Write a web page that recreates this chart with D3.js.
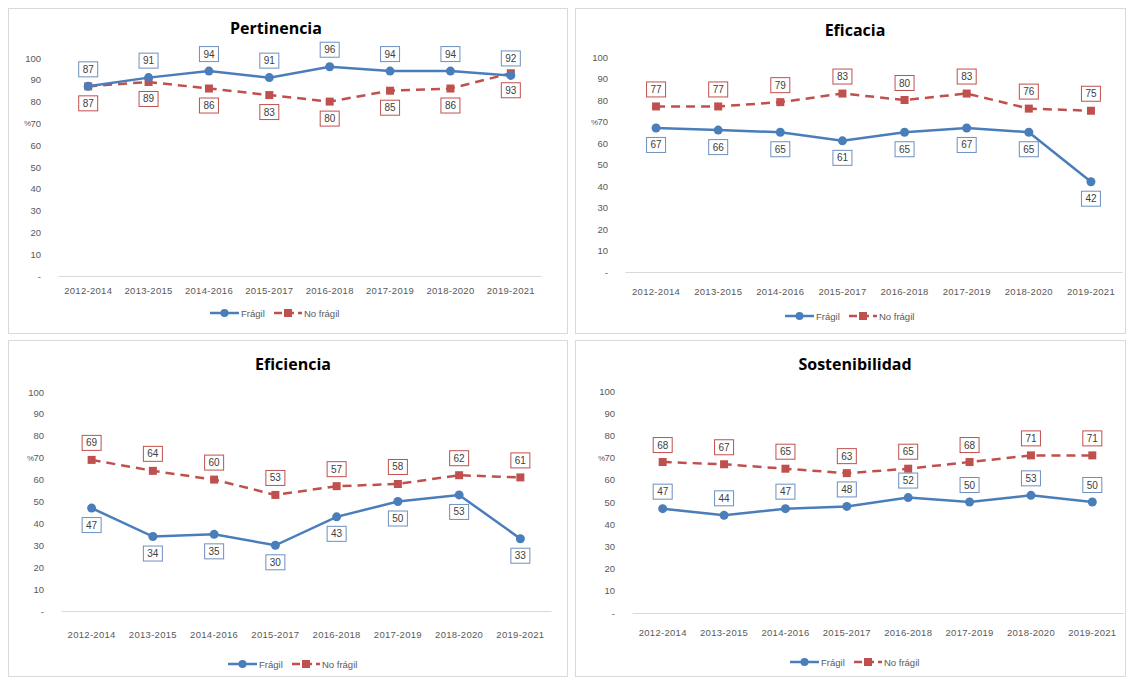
<!DOCTYPE html>
<html>
<head>
<meta charset="utf-8">
<script src="https://cdn.jsdelivr.net/npm/d3@7"></script>
<style>
  html, body { margin: 0; padding: 0; background: #ffffff; }
  svg { display: block; }
</style>
</head>
<body>
<svg id="chart" width="1130" height="677"></svg>
<script>
// ---------- DATA ----------
const categories = ["2012-2014","2013-2015","2014-2016","2015-2017","2016-2018","2017-2019","2018-2020","2019-2021"];
const titles = ["Pertinencia","Eficacia","Eficiencia","Sostenibilidad"];
const seriesNames = ["Frágil","No frágil"];
const yTickValues = [0,10,20,30,40,50,60,70,80,90,100];

const fragilPertinencia     = [87, 91, 94, 91, 96, 94, 94, 92];
const noFragilPertinencia   = [87, 89, 86, 83, 80, 85, 86, 93];
const fragilEficacia        = [67, 66, 65, 61, 65, 67, 65, 42];
const noFragilEficacia      = [77, 77, 79, 83, 80, 83, 76, 75];
const fragilEficiencia      = [47, 34, 35, 30, 43, 50, 53, 33];
const noFragilEficiencia    = [69, 64, 60, 53, 57, 58, 62, 61];
const fragilSostenibilidad  = [47, 44, 47, 48, 52, 50, 53, 50];
const noFragilSostenibilidad= [68, 67, 65, 63, 65, 68, 71, 71];

// ---------- LAYOUT (positions / styles only) ----------
const panels = [
  { title: titles[0], fr: fragilPertinencia, nf: noFragilPertinencia,
    box: [8, 8, 559, 325], x0: 58, x1: 541, yTop: 58, yBot: 276, titleX: 276, titleY: 34,
    catY: 294, legY: 313, legX: 270, frPos: -1, nfPos: 1 },
  { title: titles[1], fr: fragilEficacia, nf: noFragilEficacia,
    box: [575, 8, 550, 325], x0: 625, x1: 1122, yTop: 57, yBot: 272, titleX: 855, titleY: 36,
    catY: 295, legX: 845, legY: 316, frPos: 1, nfPos: -1 },
  { title: titles[2], fr: fragilEficiencia, nf: noFragilEficiencia,
    box: [8, 340, 559, 336], x0: 61, x1: 551, yTop: 392, yBot: 611, titleX: 293, titleY: 370,
    catY: 638, legX: 288, legY: 664, frPos: 1, nfPos: -1 },
  { title: titles[3], fr: fragilSostenibilidad, nf: noFragilSostenibilidad,
    box: [575, 340, 550, 336], x0: 632, x1: 1123, yTop: 391, yBot: 613, titleX: 855, titleY: 370,
    catY: 636, legX: 850, legY: 662, frPos: -1, nfPos: -1 }
];

const BLUE = "#4a7ebb";
const RED = "#c0504d";
const TXT = "#595959";
const FONT = "'Liberation Sans', Arial, sans-serif";

const svg = d3.select("#chart");

panels.forEach(p => {
  const g = svg.append("g");
  // panel border
  g.append("rect")
    .attr("x", p.box[0] + 0.5).attr("y", p.box[1] + 0.5)
    .attr("width", p.box[2]).attr("height", p.box[3])
    .attr("fill", "#fff").attr("stroke", "#d9d9d9").attr("stroke-width", 1);

  const x = d3.scaleBand().domain(categories).range([p.x0, p.x1]);
  const cx = c => x(c) + x.bandwidth() / 2;
  const y = d3.scaleLinear().domain([0, 100]).range([p.yBot, p.yTop]);

  // title
  g.append("text")
    .attr("x", p.titleX).attr("y", p.titleY)
    .attr("text-anchor", "middle")
    .attr("font-family", "'Open Sans', 'Noto Sans', sans-serif")
    .attr("font-weight", 700).attr("font-size", 16)
    .attr("fill", "#000")
    .text(p.title);

  // y axis (labels only)
  const yAxis = d3.axisLeft(y).tickValues(yTickValues).tickSize(0).tickPadding(0)
    .tickFormat(d => d === 0 ? "-" : d);
  const ya = g.append("g").attr("transform", `translate(${p.x0 - 17},0)`).call(yAxis);
  ya.select(".domain").remove();
  ya.selectAll("text")
    .attr("font-family", FONT)
    .attr("font-size", 9.5).attr("fill", TXT);
  // "%" axis title overlapping the 70 tick
  g.append("text")
    .attr("x", p.x0 - 27).attr("y", y(70) + 3)
    .attr("text-anchor", "end")
    .attr("font-family", FONT)
    .attr("font-size", 8).attr("fill", TXT)
    .text("%");

  // x axis
  const xAxis = d3.axisBottom(x).tickSize(0).tickPadding(0);
  const xa = g.append("g").attr("transform", `translate(0,${p.yBot})`).call(xAxis);
  xa.select(".domain").attr("stroke", "#d9d9d9").attr("stroke-width", 1);
  xa.selectAll("text")
    .attr("dy", 0).attr("y", p.catY - p.yBot)
    .attr("font-family", FONT)
    .attr("letter-spacing", 0.3)
    .attr("font-size", 9.5).attr("fill", TXT);

  const line = d3.line().x((d, i) => cx(categories[i])).y(d => y(d));

  // No frágil (dashed)
  g.append("path").datum(p.nf)
    .attr("d", line).attr("fill", "none")
    .attr("stroke", RED).attr("stroke-width", 2.5)
    .attr("stroke-dasharray", "9,6");
  // Frágil (solid)
  g.append("path").datum(p.fr)
    .attr("d", line).attr("fill", "none")
    .attr("stroke", BLUE).attr("stroke-width", 2.5);

  // markers
  g.selectAll(".mnf").data(p.nf).enter().append("rect")
    .attr("x", (d, i) => cx(categories[i]) - 4)
    .attr("y", d => y(d) - 4)
    .attr("width", 8).attr("height", 8)
    .attr("fill", RED);
  g.selectAll(".mfr").data(p.fr).enter().append("circle")
    .attr("cx", (d, i) => cx(categories[i]))
    .attr("cy", d => y(d))
    .attr("r", 4.5)
    .attr("fill", BLUE);

  // data labels
  function labels(data, pos, stroke) {
    const lg = g.selectAll(null).data(data).enter().append("g")
      .attr("transform", (d, i) => `translate(${cx(categories[i])},${y(d) + pos * 17})`);
    lg.append("rect")
      .attr("x", -9.5).attr("y", -7.5).attr("width", 19).attr("height", 15)
      .attr("fill", "#fff").attr("stroke", stroke).attr("stroke-width", 1);
    lg.append("text")
      .attr("text-anchor", "middle").attr("dy", "0.35em")
      .attr("font-family", FONT)
      .attr("font-size", 10).attr("fill", "#404040")
      .text(d => d);
  }
  labels(p.nf, p.nfPos, RED);
  labels(p.fr, p.frPos, "#6d8fbf");

  // legend
  const lgX = p.legX - 60;
  const leg = g.append("g").attr("transform", `translate(${lgX},${p.legY})`);
  leg.append("line").attr("x1", 0).attr("x2", 29).attr("y1", 0).attr("y2", 0)
    .attr("stroke", BLUE).attr("stroke-width", 2.5);
  leg.append("circle").attr("cx", 14.5).attr("cy", 0).attr("r", 4).attr("fill", BLUE);
  leg.append("text").attr("x", 31).attr("y", 3.5)
    .attr("font-family", FONT)
    .attr("font-size", 9.5).attr("fill", TXT).text(seriesNames[0]);
  leg.append("line").attr("x1", 64).attr("x2", 92).attr("y1", 0).attr("y2", 0)
    .attr("stroke", RED).attr("stroke-width", 2.5).attr("stroke-dasharray", "8,4");
  leg.append("rect").attr("x", 74).attr("y", -4).attr("width", 8).attr("height", 8).attr("fill", RED);
  leg.append("text").attr("x", 94).attr("y", 3.5)
    .attr("font-family", FONT)
    .attr("font-size", 9.5).attr("fill", TXT).text(seriesNames[1]);
});
</script>
</body>
</html>
